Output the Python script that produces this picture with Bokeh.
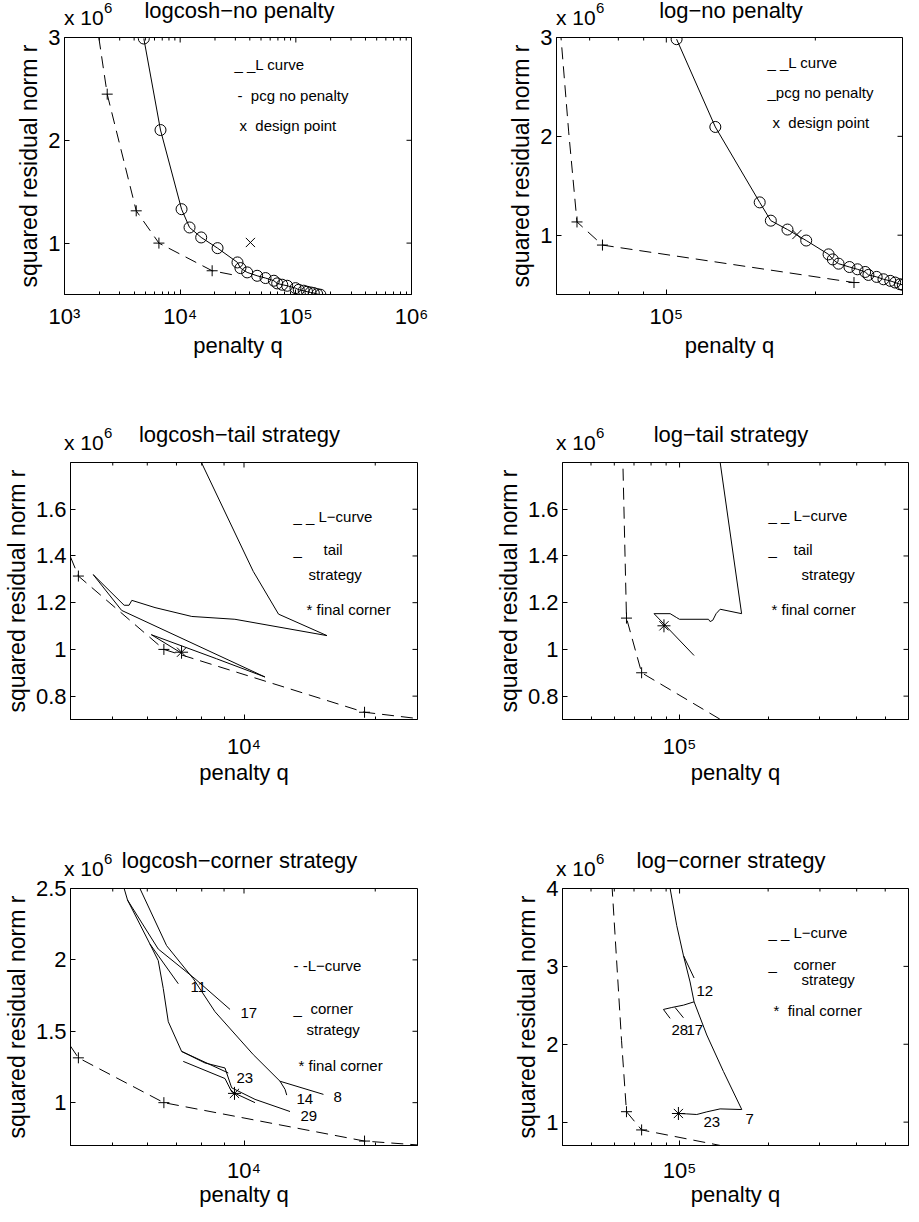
import math
from bokeh.plotting import figure
from bokeh.layouts import column, row
from bokeh.models import Label, FixedTicker, Div
from bokeh.embed import file_html
from bokeh.resources import INLINE

FONT = "Liberation Sans"
NB = "\u00a0"

# ---------------- data : penalty q, squared residual norm r (units of 1e6) ----------------
# L-curves (dashed) and their '+' points
lcurve_logcosh_q = [1980, 2340, 4170, 6550, 18900, 32100]
lcurve_logcosh_r = [3.00, 2.449, 1.314, 1.000, 0.731, 0.680]
lcurve_logcosh_pts_q = [2340, 4170, 6550, 18900]
lcurve_logcosh_pts_r = [2.449, 1.314, 1.000, 0.731]

lcurve_log_q = [58900, 61500, 63500, 66000, 74300, 239400]
lcurve_log_r = [4.05, 2.90, 2.045, 1.134, 0.900, 0.521]
lcurve_log_pts_q = [66000, 74300, 239400]
lcurve_log_pts_r = [1.134, 0.900, 0.521]

# pcg without penalty (solid with circles)
pcg_logcosh_q = [4850, 6760, 10280, 12050, 15200, 21050, 31300, 33200, 37960, 46300, 54700,
                 64600, 69000, 76300, 84200, 99300, 106000, 117000, 125000, 134000, 143000,
                 153000, 163000]
pcg_logcosh_r = [2.99, 2.10, 1.33, 1.152, 1.055, 0.951, 0.812, 0.757, 0.715, 0.682, 0.660,
                 0.634, 0.608, 0.595, 0.585, 0.562, 0.546, 0.537, 0.527, 0.520, 0.514,
                 0.504, 0.498]
pcg_log_q = [104900, 125600, 154400, 162600, 175700, 191700, 212700, 216900, 222800, 234400,
             243300, 252200, 256000, 266000, 274600, 283400, 289900, 296500, 300400]
pcg_log_r = [2.983, 2.095, 1.332, 1.147, 1.057, 0.946, 0.806, 0.755, 0.712, 0.678,
             0.655, 0.628, 0.598, 0.578, 0.554, 0.538, 0.521, 0.504, 0.497]

design_logcosh = (40500, 1.006)
design_log = (183600, 1.007)

# tail strategy paths
tail_logcosh_q = [7660, 10500, 12000, 15500, 9530, 7590, 6250, 5530, 5450, 5310, 4510, 5240,
                  11170, 8650, 6130, 7190]
tail_logcosh_r = [1.871, 1.334, 1.151, 1.059, 1.129, 1.141, 1.179, 1.210, 1.189, 1.189, 1.320,
                  1.167, 0.882, 0.960, 1.063, 0.984]
tail_logcosh_final = (7190, 0.988)

tail_log_q = [134900, 162500, 137400, 133100, 129700, 127000, 125400, 99900, 97800, 92900,
              81900, 112000]
tail_log_r = [1.871, 1.153, 1.172, 1.153, 1.125, 1.119, 1.129, 1.129, 1.136, 1.153,
              1.153, 0.974]
tail_log_final = (88500, 1.101)

# corner strategy paths (several branches)
corner_logcosh_qs = [
    [5210, 5406, 6085, 7068],
    [5406, 6358, 7719, 9289],
    [5600, 6644, 7651, 8580, 10505, 12097, 12421, 12531],
    [12097, 15213],
    [6085, 6358, 6529, 6704, 7193, 8139, 9045, 9370, 10600, 12750],
    [7193, 9204],
    [7256, 9045, 9370, 10600],
]
corner_logcosh_rs = [
    [2.586, 2.419, 2.111, 1.833],
    [2.419, 2.076, 1.868, 1.653],
    [2.586, 2.100, 1.868, 1.637, 1.336, 1.150, 1.093, 1.053],
    [1.150, 1.058],
    [2.111, 1.995, 1.799, 1.567, 1.359, 1.278, 1.243, 1.104, 1.023, 0.938],
    [1.359, 1.208],
    [1.289, 1.169, 1.076, 1.000],
]
corner_logcosh_final = (9510, 1.065)
corner_logcosh_iters = ["11", "17", "23", "14", "8", "29"]

corner_log_qs = [
    [91600, 92870, 97820, 103060, 108570, 112030, 123720, 140930, 162720, 137310, 123720,
     114400, 105770, 99100],
    [103060, 112030],
    [112030, 103060, 94100, 88130, 92870],
    [96560, 103060],
]
corner_log_rs = [
    [4.119, 4.0, 3.523, 3.140, 2.800, 2.545, 2.119, 1.651, 1.162, 1.170, 1.132,
     1.098, 1.106, 1.111],
    [3.140, 2.851],
    [2.545, 2.502, 2.472, 2.447, 2.332],
    [2.472, 2.340],
]
corner_log_final = (99100, 1.111)
corner_log_iters = ["12", "28", "17", "23", "7"]

titles = ["logcosh\u2212no penalty", "log\u2212no penalty", "logcosh\u2212tail strategy",
          "log\u2212tail strategy", "logcosh\u2212corner strategy", "log\u2212corner strategy"]

# ---------------- layout constants ----------------
FH = 257
COLS = [dict(fw=347, bl=64, br=30), dict(fw=346, bl=115, br=1)]
TOPB = 12
ROWS = [dict(strip=25, bb=70, s1=9, s2=1), dict(strip=86, bb=70, s1=14, s2=-2),
        dict(strip=87, bb=58, s1=12, s2=-4)]
SUP = {3: "\u00b3", 4: "\u2074", 5: "\u2075", 6: "\u2076"}
ASC = 0.8465  # baseline position inside a line box of height 1em (Liberation Sans)
DASH = "12 7"


def to_data(xr, yr, fw, dx, dy):
    lx0, lx1 = math.log10(xr[0]), math.log10(xr[1])
    return 10 ** (lx0 + dx / fw * (lx1 - lx0)), yr[1] - dy / FH * (yr[1] - yr[0])


def span(txt, left, baseline, fs, center=False):
    tr = "transform:translateX(-50%);" if center else ""
    top = max(0.0, baseline - ASC * fs)
    return (f'<span style="position:absolute;left:{left:.1f}px;top:{top:.1f}px;'
            f'font-size:{fs}px;line-height:{fs}px;white-space:nowrap;{tr}">{txt}</span>')


def strip(title, c, r):
    col = COLS[c]
    w = col["bl"] + col["fw"] + col["br"]
    h = ROWS[r]["strip"]
    fl = col["bl"]
    ft = h + TOPB  # frame top measured from strip top
    html = (f'<div style="position:relative;width:{w}px;height:{h}px;'
            f"font-family:'{FONT}',sans-serif;color:#000;\">"
            + span(title, fl + col["fw"] / 2 + 2, ft - 19, 22, center=True)
            + span("x 10", fl, ft - 12, 21)
            + span("6", fl + 40, ft - 24, 15)
            + "</div>")
    return Div(text=html, width=w, height=h, margin=(0, 0, 0, 0))


def panel(xr, yr, yticks, ylabels, xmajor, xminor, c, r, legend, iters=None):
    col, rw = COLS[c], ROWS[r]
    fw = col["fw"]
    p = figure(x_axis_type="log", x_range=xr, y_range=yr, frame_width=fw, frame_height=FH,
               min_border_left=col["bl"], min_border_right=col["br"],
               min_border_top=TOPB, min_border_bottom=rw["bb"],
               output_backend="svg", toolbar_location=None)
    p.grid.visible = False
    p.outline_line_color = "black"
    p.outline_line_alpha = 1.0
    p.background_fill_color = "white"
    p.border_fill_color = None

    xa, ya = p.xaxis[0], p.yaxis[0]
    xa.ticker = FixedTicker(ticks=xmajor, minor_ticks=xminor)
    xa.major_label_overrides = {float(t): "10" + SUP[int(round(math.log10(t)))] for t in xmajor}
    ya.ticker = FixedTicker(ticks=yticks, minor_ticks=[])
    ya.major_label_overrides = {float(t): s for t, s in zip(yticks, ylabels)}
    for ax in (xa, ya):
        ax.major_tick_in = 5
        ax.major_tick_out = 0
        ax.minor_tick_in = 3
        ax.minor_tick_out = 0
        ax.axis_line_color = "black"
        ax.major_tick_line_color = "black"
        ax.minor_tick_line_color = "black"
        ax.major_label_text_font = FONT
        ax.major_label_text_font_size = "22px"
        ax.major_label_text_color = "black"
        ax.axis_label_text_font = FONT
        ax.axis_label_text_font_style = "normal"
        ax.axis_label_text_color = "black"
    xa.axis_label = "penalty q"
    xa.axis_label_text_font_size = "22px"
    xa.major_label_standoff = rw["s1"]
    xa.axis_label_standoff = rw["s2"]
    ya.axis_label = "squared residual norm r"
    ya.axis_label_text_font_size = "23px"
    ya.major_label_standoff = 4
    ya.axis_label_standoff = 3

    # inward ticks on top and right edges (box)
    lx0, lx1 = math.log10(xr[0]), math.log10(xr[1])
    ky = (yr[1] - yr[0]) / FH
    for ticks, ln in ((xmajor, 5), (xminor, 3)):
        p.segment(x0=ticks, y0=[yr[1]] * len(ticks), x1=ticks,
                  y1=[yr[1] - ln * ky] * len(ticks), line_color="black", line_width=1)
    f = 10 ** (5 * (lx1 - lx0) / fw)
    p.segment(x0=[xr[1]] * len(yticks), y0=yticks, x1=[xr[1] / f] * len(yticks), y1=yticks,
              line_color="black", line_width=1)

    for txt, dx, dy in legend:
        lx, ly = to_data(xr, yr, fw, dx, dy)
        p.add_layout(Label(x=lx, y=ly, text=txt, text_font=FONT, text_font_size="15px",
                           text_align="left", text_baseline="alphabetic", text_color="black"))
    if iters:
        for txt, dx, dy in iters:
            lx, ly = to_data(xr, yr, fw, dx, dy)
            p.add_layout(Label(x=lx, y=ly, text=txt, text_font=FONT, text_font_size="15px",
                               text_align="left", text_baseline="middle", text_color="black"))
    return p


def lcurve(p, q, r, pq, pr):
    p.line(q, r, line_color="black", line_width=1, line_dash=DASH)
    p.scatter(pq, pr, marker="cross", size=11, line_color="black", line_width=1)


X_COSH_WIDE = dict(xr=(1e3, 1e6), xmajor=[1e3, 1e4, 1e5, 1e6],
                   xminor=[m * 10 ** e for e in (3, 4, 5) for m in range(2, 10)])
X_COSH = dict(xr=(4e3, 2.5e4), xmajor=[1e4], xminor=[4e3, 5e3, 6e3, 7e3, 8e3, 9e3, 2e4])
X_LOG_NP = dict(xr=(6e4, 3e5), xmajor=[1e5], xminor=[6e4, 7e4, 8e4, 9e4, 2e5, 3e5])
X_LOG = dict(xr=(4e4, 6e5), xmajor=[1e5],
             xminor=[4e4, 5e4, 6e4, 7e4, 8e4, 9e4, 2e5, 3e5, 4e5, 5e5, 6e5])

# ---- panel 1
p1 = panel(yr=(0.5, 3.0), yticks=[1, 2, 3], ylabels=["1", "2", "3"], c=0, r=0,
           legend=[("_ _L curve", 170, 27), ("-" + NB + NB + "pcg no penalty", 173, 58),
                   ("x" + NB + NB + "design point", 175, 88)], **X_COSH_WIDE)
lcurve(p1, lcurve_logcosh_q, lcurve_logcosh_r, lcurve_logcosh_pts_q, lcurve_logcosh_pts_r)
p1.line(pcg_logcosh_q, pcg_logcosh_r, line_color="black", line_width=1)
p1.scatter(pcg_logcosh_q, pcg_logcosh_r, marker="circle", size=11, fill_color=None,
           line_color="black", line_width=1)
p1.scatter([design_logcosh[0]], [design_logcosh[1]], marker="x", size=13, line_color="black")

# ---- panel 2
p2 = panel(yr=(0.4, 3.0), yticks=[1, 2, 3], ylabels=["1", "2", "3"], c=1, r=0,
           legend=[("_ _L curve", 211, 25), ("_pcg no penalty", 211, 55),
                   ("x" + NB + NB + "design point", 216, 85)], **X_LOG_NP)
lcurve(p2, lcurve_log_q, lcurve_log_r, lcurve_log_pts_q, lcurve_log_pts_r)
p2.line(pcg_log_q, pcg_log_r, line_color="black", line_width=1)
p2.scatter(pcg_log_q, pcg_log_r, marker="circle", size=11, fill_color=None,
           line_color="black", line_width=1)
p2.scatter([design_log[0]], [design_log[1]], marker="x", size=13, line_color="black")

# ---- panel 3
yt_tail = [0.8, 1.0, 1.2, 1.4, 1.6]
yl_tail = ["0.8", "1", "1.2", "1.4", "1.6"]
p3 = panel(yr=(0.7, 1.8), yticks=yt_tail, ylabels=yl_tail, c=0, r=1,
           legend=[("_ _ L\u2212curve", 223, 54), ("_", 223, 87), ("tail", 253, 87),
                   ("strategy", 238, 112), ("* final corner", 236, 147)], **X_COSH)
lcurve(p3, lcurve_logcosh_q, lcurve_logcosh_r, lcurve_logcosh_pts_q, lcurve_logcosh_pts_r)
p3.line(tail_logcosh_q, tail_logcosh_r, line_color="black", line_width=1)
p3.scatter([tail_logcosh_final[0]], [tail_logcosh_final[1]], marker="asterisk", size=13,
           line_color="black")

# ---- panel 4
p4 = panel(yr=(0.7, 1.8), yticks=yt_tail, ylabels=yl_tail, c=1, r=1,
           legend=[("_ _ L\u2212curve", 206, 53), ("_", 206, 87), ("tail", 231, 87),
                   ("strategy", 239, 112), ("* final corner", 209, 147)], **X_LOG)
lcurve(p4, lcurve_log_q, lcurve_log_r, lcurve_log_pts_q, lcurve_log_pts_r)
p4.line(tail_log_q, tail_log_r, line_color="black", line_width=1)
p4.scatter([tail_log_final[0]], [tail_log_final[1]], marker="asterisk", size=13,
           line_color="black")

# ---- panel 5
it5 = list(zip(corner_logcosh_iters, [120, 170, 166, 226, 263, 230], [98, 124, 189, 210, 208, 227]))
p5 = panel(yr=(0.7, 2.5), yticks=[1.0, 1.5, 2.0, 2.5], ylabels=["1", "1.5", "2", "2.5"],
           c=0, r=2,
           legend=[("- -L\u2212curve", 223, 77), ("_", 223, 120), ("corner", 240, 120),
                   ("strategy", 236, 141), ("* final corner", 228, 177)],
           iters=it5, **X_COSH)
lcurve(p5, lcurve_logcosh_q, lcurve_logcosh_r, lcurve_logcosh_pts_q, lcurve_logcosh_pts_r)
p5.multi_line(corner_logcosh_qs, corner_logcosh_rs, line_color="black", line_width=1)
p5.scatter([corner_logcosh_final[0]], [corner_logcosh_final[1]], marker="asterisk", size=13,
           line_color="black")

# ---- panel 6
it6 = list(zip(corner_log_iters, [134, 109, 124, 141, 183], [102, 141, 141, 233, 230]))
p6 = panel(yr=(0.7, 4.0), yticks=[1, 2, 3, 4], ylabels=["1", "2", "3", "4"], c=1, r=2,
           legend=[("_ _ L\u2212curve", 206, 44), ("_", 206, 76), ("corner", 231, 76),
                   ("strategy", 239, 91), ("*" + NB + NB + "final corner", 211, 122)],
           iters=it6, **X_LOG)
lcurve(p6, lcurve_log_q, lcurve_log_r, lcurve_log_pts_q, lcurve_log_pts_r)
p6.multi_line(corner_log_qs, corner_log_rs, line_color="black", line_width=1)
p6.scatter([corner_log_final[0]], [corner_log_final[1]], marker="asterisk", size=13,
           line_color="black")

panels = [p1, p2, p3, p4, p5, p6]
rows = []
for r in range(3):
    rows.append(row(strip(titles[2 * r], 0, r), strip(titles[2 * r + 1], 1, r)))
    rows.append(row(panels[2 * r], panels[2 * r + 1]))
layout = column(*rows)
open("out.html", "w").write(file_html(layout, INLINE))
